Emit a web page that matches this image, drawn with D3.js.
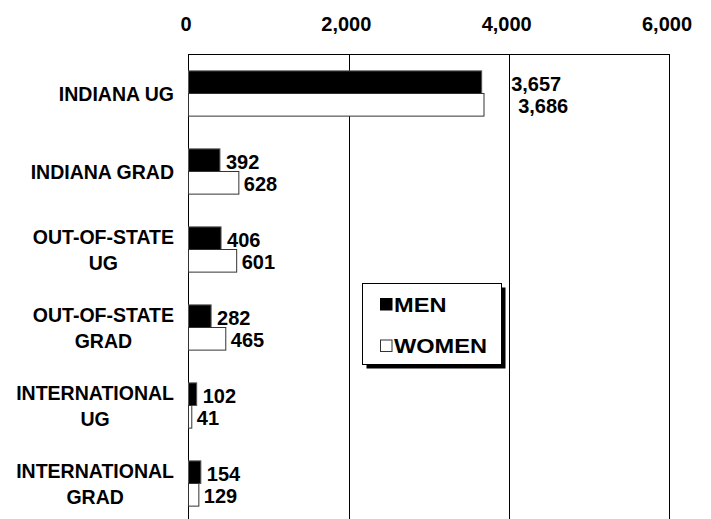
<!DOCTYPE html>
<html>
<head>
<meta charset="utf-8">
<script src="https://cdn.jsdelivr.net/npm/d3@7"></script>
<style>
  html, body { margin: 0; padding: 0; background: #fff; }
  svg { display: block; font-family: "Liberation Sans", Arial, sans-serif; font-weight: bold; }
</style>
</head>
<body>
<svg id="chart" width="711" height="519"></svg>
<script>
// ---- data ----
const categories = [
  ["INDIANA UG"],
  ["INDIANA GRAD"],
  ["OUT-OF-STATE", "UG"],
  ["OUT-OF-STATE", "GRAD"],
  ["INTERNATIONAL", "UG"],
  ["INTERNATIONAL", "GRAD"]
];
const men   = [3657, 392, 406, 282, 102, 154];
const women = [3686, 628, 601, 465, 41, 129];
const seriesNames = ["MEN", "WOMEN"];
const tickValues = [0, 2000, 4000, 6000];

// ---- layout ----
(function () {
const svg = d3.select("#chart");
const W = 711, H = 519;
const pLeft = 188.5, pRight = 669.5, pTop = 54.5, pBottom = 522.5;

const keys = categories.map(c => c.join(" "));
const x = d3.scaleLinear().domain([0, 6000]).range([pLeft, pRight]);
const y = d3.scaleBand().domain(keys).range([pTop, pBottom]).padding(0);
const barH = y.bandwidth() * 0.29;

svg.append("rect").attr("width", W).attr("height", H).attr("fill", "#fff");

// gridlines
svg.append("g").selectAll("line")
  .data(tickValues.filter(v => v > 0 && v < 6000))
  .join("line")
  .attr("x1", d => Math.round(x(d)) + 0.5).attr("x2", d => Math.round(x(d)) + 0.5)
  .attr("y1", pTop).attr("y2", pBottom)
  .attr("stroke", "#000").attr("stroke-width", 1);

// plot border
svg.append("rect")
  .attr("x", pLeft).attr("y", pTop)
  .attr("width", pRight - pLeft).attr("height", pBottom - pTop)
  .attr("fill", "none").attr("stroke", "#000").attr("stroke-width", 1);

// top axis
const axis = d3.axisTop(x).tickValues(tickValues).tickFormat(d3.format(",")).tickSize(0).tickPadding(0);
const ga = svg.append("g").attr("transform", "translate(0,31)").call(axis);
ga.select(".domain").remove();
ga.selectAll("text")
  .attr("font-family", "'Liberation Sans', Arial, sans-serif")
  .attr("font-weight", "bold")
  .attr("font-size", 20)
  .attr("fill", "#000")
  .attr("dy", 0)
  .attr("x", -3);

// bars
const rows = keys.map((k, i) => ({ key: k, lines: categories[i], men: men[i], women: women[i] }));

const gBars = svg.append("g");
gBars.selectAll("rect.men").data(rows).join("rect")
  .attr("class", "men")
  .attr("x", x(0))
  .attr("y", d => y(d.key) + y.bandwidth() / 2 - barH)
  .attr("width", d => x(d.men) - x(0))
  .attr("height", barH)
  .attr("fill", "#000").attr("stroke", "#555").attr("stroke-width", 1);

gBars.selectAll("rect.women").data(rows).join("rect")
  .attr("class", "women")
  .attr("x", x(0))
  .attr("y", d => y(d.key) + y.bandwidth() / 2)
  .attr("width", d => x(d.women) - x(0))
  .attr("height", barH)
  .attr("fill", "#fff").attr("stroke", "#333").attr("stroke-width", 1);

// value labels
const fmt = d3.format(",");
function labelX(v, isWomen) {
  let lx = x(v) + (isWomen ? 5 : 6);
  // labels that would cross the 4,000 gridline are pushed beyond it
  if (v > 3000) lx = x(4000) + (isWomen ? 9 : 2);
  return lx;
}
const gLab = svg.append("g").attr("font-size", 20).attr("fill", "#000");
gLab.selectAll("text.m").data(rows).join("text")
  .attr("class", "m")
  .attr("x", d => labelX(d.men, false))
  .attr("y", d => y(d.key) + y.bandwidth() / 2 - barH / 2 + 8.5)
  .text(d => fmt(d.men));
gLab.selectAll("text.w").data(rows).join("text")
  .attr("class", "w")
  .attr("x", d => labelX(d.women, true))
  .attr("y", d => y(d.key) + y.bandwidth() / 2 + barH / 2 + 8.5)
  .text(d => fmt(d.women));

// category labels
const catRight = 174;
const gCat = svg.append("g").attr("font-size", 19.5).attr("fill", "#000");
rows.forEach(d => {
  const g = gCat.append("g");
  const cy = y(d.key) + y.bandwidth() / 2;
  const n = d.lines.length;
  const lh = 26;
  const texts = g.selectAll("text").data(d.lines).join("text")
    .attr("text-anchor", "middle")
    .attr("y", (t, i) => cy + 7 + (i - (n - 1) / 2) * lh)
    .text(t => t);
  let maxW = 0;
  texts.each(function () { maxW = Math.max(maxW, this.getComputedTextLength()); });
  texts.attr("x", catRight - maxW / 2);
});

// legend
const lg = svg.append("g").attr("transform", "translate(362.5,283.5)");
const lw = 139, lhgt = 81;
lg.append("rect").attr("x", 4).attr("y", 4).attr("width", lw).attr("height", lhgt).attr("fill", "#000");
lg.append("rect").attr("width", lw).attr("height", lhgt).attr("fill", "#fff").attr("stroke", "#000").attr("stroke-width", 1);
const items = lg.selectAll("g.item").data(seriesNames).join("g")
  .attr("class", "item")
  .attr("transform", (d, i) => `translate(0,${i * 41.5})`);
items.append("rect")
  .attr("x", 18).attr("y", 15).attr("width", 11.5).attr("height", 11.5)
  .attr("fill", (d, i) => i === 0 ? "#000" : "#fff")
  .attr("stroke", (d, i) => i === 0 ? "#000" : "#333").attr("stroke-width", 1);
items.append("text")
  .attr("transform", "translate(31.5,28) scale(1.18,1)")
  .attr("font-size", 20).attr("fill", "#000")
  .text(d => d);
})();
</script>
</body>
</html>
